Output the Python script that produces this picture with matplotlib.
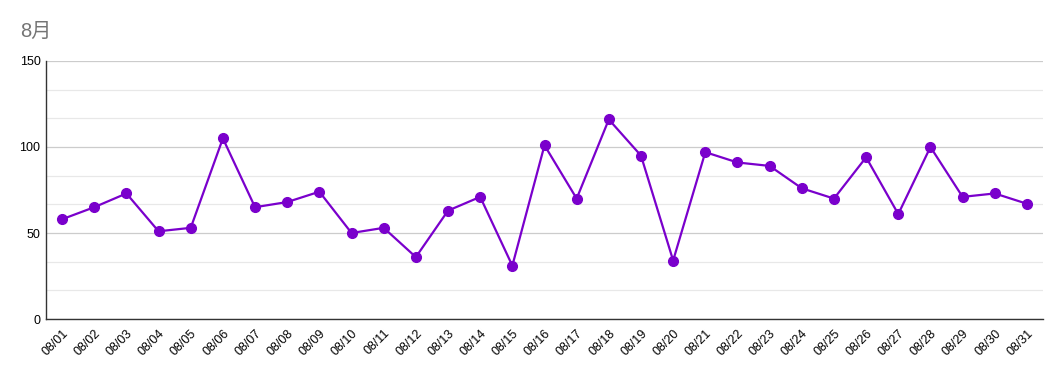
import numpy
from matplotlib import pyplot
from matplotlib.ticker import MultipleLocator

pyplot.rcParams["font.family"] = ["Liberation Sans", "Noto Sans CJK JP", "DejaVu Sans"]

days = ["08/%02d" % d for d in range(1, 32)]
values = [58, 65, 73, 51, 53, 105, 65, 68, 74, 50,
          53, 36, 63, 71, 31, 101, 70, 116, 95, 34,
          97, 91, 89, 76, 70, 94, 61, 100, 71, 73, 67]

fig = pyplot.figure(figsize=(10.61, 3.71), dpi=100)
axes = fig.add_axes([46 / 1061, 1 - 319 / 371, 997 / 1061, 258 / 371])

x = numpy.arange(len(days))
axes.plot(x, values, "-o", color="#7a00cc", linewidth=1.6, markersize=7, zorder=3)

axes.set_xlim(-0.5, len(days) - 0.5)
axes.set_ylim(0, 150)
axes.yaxis.set_major_locator(MultipleLocator(50))
axes.yaxis.set_minor_locator(MultipleLocator(50 / 3))
axes.grid(which="major", axis="y", color="#cccccc", linewidth=0.9)
axes.grid(which="minor", axis="y", color="#e8e8e8", linewidth=0.9)
axes.set_axisbelow(True)

axes.set_xticks(x)
axes.set_xticklabels(days, rotation=45, ha="right", rotation_mode="anchor", fontsize=9)
axes.tick_params(axis="both", which="both", length=0)
axes.tick_params(axis="x", pad=6)
axes.tick_params(axis="y", labelsize=9, pad=4)

for side in ("top", "right"):
    axes.spines[side].set_visible(False)
for side in ("left", "bottom"):
    axes.spines[side].set_color("#333333")
    axes.spines[side].set_linewidth(1.0)

fig.text(20 / 1061, 1 - 31 / 371, "8月", fontsize=14.5, color="#757575", va="center", ha="left")

fig.savefig("out.png", dpi=100)
